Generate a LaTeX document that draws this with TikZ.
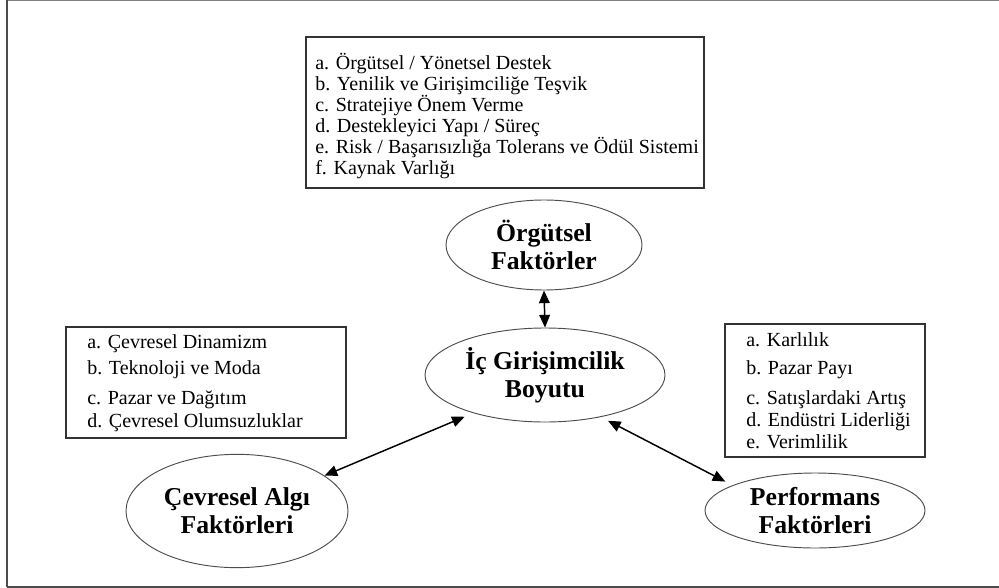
\documentclass[tikz,border=0pt]{standalone}
\usepackage{fontspec}
\setmainfont{Liberation Serif}
\usetikzlibrary{shapes.geometric,arrows.meta}
\begin{document}
\begin{tikzpicture}[x=0.75pt,y=-0.75pt,
  listbox/.style={draw=black!80,line width=0.8pt,inner sep=0pt},
  listtxt/.style={anchor=base west,inner sep=0pt,font=\fontsize{15}{18}\selectfont},
  ell/.style={ellipse,draw=black!70,line width=0.7pt,inner sep=0pt,align=center,
    font=\fontsize{19.3}{21}\selectfont\bfseries},
  arr/.style={line width=1.1pt,{Triangle[length=9.5pt,width=8pt]}-{Triangle[length=9.5pt,width=8pt]}}]
\useasboundingbox (0,0) rectangle (999,588);
% outer frame
\draw[black!50,line width=1pt] (7,0.6) -- (999,0.6);
\draw[black!70,line width=1.4pt] (7,0) -- (7,587);
\draw[black!70,line width=1.4pt] (7,586.6) -- (999,586.6);

% top box
\node[listbox,minimum width=298.5pt,minimum height=113.25pt] (topbox) at (505,112.5) {};
\node[listtxt] (t1) at (315,70) {a. Örgütsel / Yönetsel Destek};
\node[listtxt] (t2) at (315,91) {b. Yenilik ve Girişimciliğe Teşvik};
\node[listtxt] (t3) at (315,112) {c. Stratejiye Önem Verme};
\node[listtxt] (t4) at (315,133) {d. Destekleyici Yapı / Süreç};
\node[listtxt] (t5) at (315,154) {e. Risk / Başarısızlığa Tolerans ve Ödül Sistemi};
\node[listtxt] (t6) at (315,175) {f. Kaynak Varlığı};

% left box
\node[listbox,minimum width=210pt,minimum height=83.25pt] (leftbox) at (206,382.5) {};
\node[listtxt] (l1) at (87,348) {a. Çevresel Dinamizm};
\node[listtxt] (l2) at (87,374) {b. Teknoloji ve Moda};
\node[listtxt] (l3) at (87,404) {c. Pazar ve Dağıtım};
\node[listtxt] (l4) at (87,427) {d. Çevresel Olumsuzluklar};

% right box
\node[listbox,minimum width=150pt,minimum height=99.75pt] (rightbox) at (825,390.5) {};
\node[listtxt] (r1) at (746,346) {a. Karlılık};
\node[listtxt] (r2) at (746,374) {b. Pazar Payı};
\node[listtxt] (r3) at (746,404) {c. Satışlardaki Artış};
\node[listtxt] (r4) at (746,426) {d. Endüstri Liderliği};
\node[listtxt] (r5) at (746,448) {e. Verimlilik};

% ellipses
\node[ell,minimum width=147pt,minimum height=67.5pt] (org) at (544,245) {Örgütsel\\Faktörler};
\node[ell,minimum width=180pt,minimum height=70.5pt] (ic) at (545,375) {İç Girişimcilik\\Boyutu};
\node[ell,minimum width=166.5pt,minimum height=85pt] (cev) at (237,511) {Çevresel Algı\\Faktörleri};
\node[ell,minimum width=165pt,minimum height=56.25pt] (perf) at (815,510.5) {Performans\\Faktörleri};

% connectors
\draw[arr] (org.south) -- (ic.north);
\draw[arr,shorten >=7pt] (cev.22) -- (ic.208);
\draw[arr,shorten <=6pt,shorten >=6pt] (ic.323) -- (perf.163);
\end{tikzpicture}
\end{document}
